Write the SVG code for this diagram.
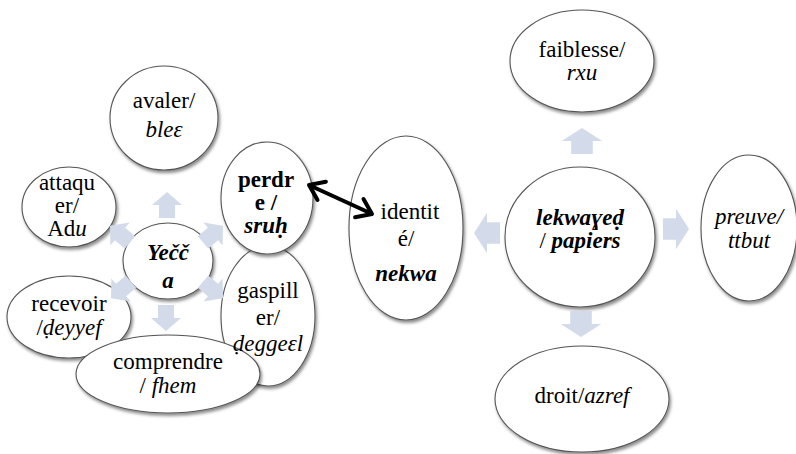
<svg xmlns="http://www.w3.org/2000/svg" width="796" height="454" viewBox="0 0 796 454">
<style>
.n{fill:#fff;stroke:#555;stroke-width:1.1}
.arw{fill:#d3dae9}
</style>
<defs>
<filter id="sh"><feDropShadow dx="1.5" dy="2.5" stdDeviation="1.5" flood-opacity="0.45"/></filter>
</defs>
<rect width="796" height="454" fill="#fff"/>

<g font-family="Liberation Serif, Times New Roman, serif" font-size="23" text-anchor="middle">
<g id="avaler">
<ellipse class="n" cx="164" cy="118" rx="54" ry="52" filter="url(#sh)"/>
<text font-family="Liberation Serif" x="164" y="108">avaler/</text>
<text font-family="Liberation Serif" x="164" y="137" font-style="italic">bleɛ</text>
</g>
<g id="attaquer">
<ellipse class="n" cx="69" cy="207" rx="47" ry="40" filter="url(#sh)"/>
<text font-family="Liberation Serif" x="67" y="190">attaqu</text>
<text font-family="Liberation Serif" x="67" y="213">er/</text>
<text font-family="Liberation Serif" x="67" y="236">Ad<tspan font-style="italic">u</tspan></text>
</g>
<g id="gaspiller">
<ellipse class="n" cx="268" cy="316" rx="47" ry="70" filter="url(#sh)"/>
</g>
<g id="perdre">
<ellipse class="n" cx="267" cy="198" rx="46" ry="56" filter="url(#sh)"/>
<text font-family="Liberation Serif" x="266" y="187" font-weight="bold">perdr</text>
<text font-family="Liberation Serif" x="266" y="210" font-weight="bold">e /</text>
<text font-family="Liberation Serif" x="266" y="233" font-weight="bold" font-style="italic">sruḥ</text>
</g>
<g id="yecca">
<ellipse class="n" cx="168" cy="261" rx="45" ry="38" filter="url(#sh)"/>
<text font-family="Liberation Serif" x="168" y="260" font-weight="bold" font-style="italic">Yečč</text>
<text font-family="Liberation Serif" x="168" y="288" font-weight="bold" font-style="italic">a</text>
</g>
<g id="recevoir">
<ellipse class="n" cx="69" cy="317" rx="62" ry="41" filter="url(#sh)"/>
<text font-family="Liberation Serif" x="69" y="311">recevoir</text>
<text font-family="Liberation Serif" x="69" y="335">/<tspan font-style="italic">ḍeyyef</tspan></text>
</g>
<g id="comprendre">
<ellipse class="n" cx="168" cy="374" rx="92" ry="39" filter="url(#sh)"/>
<text font-family="Liberation Serif" x="168" y="369">comprendre</text>
<text font-family="Liberation Serif" x="168" y="393">/ <tspan font-style="italic">fhem</tspan></text>
</g>
<g id="gaspiller-label">
<text font-family="Liberation Serif" x="268" y="298">gaspill</text>
<text font-family="Liberation Serif" x="268" y="325">er/</text>
<text font-family="Liberation Serif" x="268" y="351" font-style="italic">ḍeggeɛl</text>
</g>
<g id="identite">
<ellipse class="n" cx="406" cy="228" rx="57" ry="92" filter="url(#sh)"/>
<text font-family="Liberation Serif" x="410" y="219">identit</text>
<text font-family="Liberation Serif" x="406" y="246">é/</text>
<text font-family="Liberation Serif" x="406" y="281" font-weight="bold" font-style="italic">nekwa</text>
</g>
<g id="faiblesse">
<ellipse class="n" cx="582" cy="61" rx="72" ry="51" filter="url(#sh)"/>
<text font-family="Liberation Serif" x="582" y="57">faiblesse/</text>
<text font-family="Liberation Serif" x="582" y="80" font-style="italic">rxu</text>
</g>
<g id="lekwayed">
<ellipse class="n" cx="580" cy="237" rx="75" ry="70" filter="url(#sh)"/>
<text font-family="Liberation Serif" x="580" y="225" font-weight="bold" font-style="italic">lekwaɣeḍ</text>
<text font-family="Liberation Serif" x="580" y="248">/ <tspan font-weight="bold" font-style="italic">papiers</tspan></text>
</g>
<g id="preuve">
<ellipse class="n" cx="749" cy="228" rx="48" ry="73" filter="url(#sh)"/>
<text font-family="Liberation Serif" x="749" y="224" font-style="italic">preuve/</text>
<text font-family="Liberation Serif" x="749" y="248" font-style="italic">ttbut</text>
</g>
<g id="droit">
<ellipse class="n" cx="582" cy="399" rx="87" ry="53" filter="url(#sh)"/>
<text font-family="Liberation Serif" x="582" y="403">droit/<tspan font-style="italic">azref</tspan></text>
</g>
</g>

<g id="connectors">
<polygon class="arw" points="-8,13 8,13 8,0 15,0 0,-13 -15,0 -8,0" transform="translate(167,205)"/>
<polygon class="arw" points="-8,13 8,13 8,0 15,0 0,-13 -15,0 -8,0" transform="translate(120,234) rotate(-50)"/>
<polygon class="arw" points="-8,13 8,13 8,0 15,0 0,-13 -15,0 -8,0" transform="translate(213,234) rotate(50)"/>
<polygon class="arw" points="-8,13 8,13 8,0 15,0 0,-13 -15,0 -8,0" transform="translate(121,290) rotate(-130)"/>
<polygon class="arw" points="-8,13 8,13 8,0 15,0 0,-13 -15,0 -8,0" transform="translate(213,290) rotate(130)"/>
<polygon class="arw" points="-8,13 8,13 8,0 15,0 0,-13 -15,0 -8,0" transform="translate(166,318) rotate(180)"/>
<polygon class="arw" points="-8,13 8,13 8,0 15,0 0,-13 -15,0 -8,0" transform="translate(582,141) scale(1.35,1)"/>
<polygon class="arw" points="-8,13 8,13 8,0 15,0 0,-13 -15,0 -8,0" transform="translate(676,229) rotate(90) scale(1.35,1)"/>
<polygon class="arw" points="-8,13 8,13 8,0 15,0 0,-13 -15,0 -8,0" transform="translate(487,233) rotate(-90) scale(1.35,1)"/>
<polygon class="arw" points="-8,13 8,13 8,0 15,0 0,-13 -15,0 -8,0" transform="translate(581,324) rotate(180) scale(1.35,1)"/>
<g fill="none" stroke="#000" stroke-width="4" stroke-linecap="round" stroke-linejoin="round">
<line x1="311" y1="186" x2="370" y2="213"/>
<polyline points="325.9,181.7 309,185 317.5,199.9"/>
<polyline points="363.5,199.1 372,214 355.1,217.3"/>
</g>
</g>
</svg>
